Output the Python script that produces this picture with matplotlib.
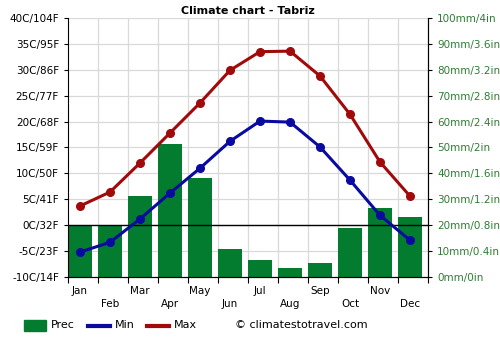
import matplotlib
matplotlib.use("Agg")
import matplotlib.pyplot as plt
import numpy as np

months = ["Jan", "Feb", "Mar", "Apr", "May", "Jun", "Jul", "Aug", "Sep", "Oct", "Nov", "Dec"]
tmax = [3.7, 6.4, 12.0, 17.8, 23.6, 29.9, 33.5, 33.6, 28.8, 21.4, 12.2, 5.6]
tmin = [-5.2, -3.3, 1.2, 6.2, 11.0, 16.2, 20.1, 19.9, 15.1, 8.7, 1.9, -2.9]
prec = [20.1, 20.1, 31.3, 51.4, 38.2, 10.8, 6.6, 3.6, 5.4, 18.9, 26.6, 23.2]
left_labels = ["-10C/14F", "-5C/23F", "0C/32F", "5C/41F", "10C/50F", "15C/59F", "20C/68F",
               "25C/77F", "30C/86F", "35C/95F", "40C/104F"]
right_labels = ["0mm/0in", "10mm/0.4in", "20mm/0.8in", "30mm/1.2in", "40mm/1.6in", "50mm/2in",
                "60mm/2.4in", "70mm/2.8in", "80mm/3.2in", "90mm/3.6in", "100mm/4in"]

fig = plt.figure(figsize=(5, 3.5), dpi=100)
ax = fig.add_axes([0.136, 0.2086, 0.72, 0.74])
ax2 = ax.twinx()

x = np.arange(12) - 0.1
ax.set_xlim(-0.5, 11.5)
ax.set_ylim(-10, 40)
ax2.set_ylim(0, 100)

# grid (on the lower axes so bars cover it)
for v in np.arange(0, 101, 10):
    ax2.axhline(v, color="#d9d9d9", lw=0.9, zorder=0)
for b in np.arange(0.5, 11.5, 1):
    ax2.axvline(b, color="#d9d9d9", lw=0.9, zorder=0)

ax2.bar(x, prec, width=0.8, color="#037c30", zorder=2)
ax2.set_zorder(1)
ax.set_zorder(2)
ax.patch.set_visible(False)
ax.axhline(0, color="black", lw=1.0, zorder=3)

ax.plot(x, tmax, color="#a00a0a", lw=2.2, marker="o", ms=5.5, zorder=5)
ax.plot(x, tmin, color="#0a0aa0", lw=2.2, marker="o", ms=5.5, zorder=5)

ax.set_yticks(np.arange(-10, 41, 5))
ax.set_yticklabels(left_labels, fontsize=7.5, color="black")
ax2.set_yticks(np.arange(0, 101, 10))
ax2.set_yticklabels(right_labels, fontsize=7.5, color="#2e7d32")
ax.tick_params(axis="y", length=3, color="black")
ax2.tick_params(axis="y", length=3, color="black")

ax.set_xticks(np.arange(-0.5, 12, 1), minor=False)
ax.set_xticklabels([])
ax.tick_params(axis="x", length=4, color="black")
for i, m in enumerate(months):
    yoff = -0.035 if i % 2 == 0 else -0.085
    ax.text(x[i], yoff, m, transform=ax.get_xaxis_transform(), ha="center", va="top", fontsize=7.5)

for sp in ["top"]:
    ax.spines[sp].set_visible(False)
    ax2.spines[sp].set_visible(False)
ax2.spines["left"].set_visible(False)
ax2.spines["right"].set_color("black")
ax.spines["left"].set_color("black")
ax.spines["bottom"].set_color("black")

ax.set_title("Climate chart - Tabriz", fontsize=8, fontweight="bold", pad=3)

# legend
fig.patches.append(plt.Rectangle((0.048, 0.055), 0.044, 0.03, transform=fig.transFigure, color="#037c30"))
fig.text(0.102, 0.07, "Prec", fontsize=8, va="center")
fig.lines.append(plt.Line2D([0.176, 0.219], [0.07, 0.07], transform=fig.transFigure, color="#0a0aa0", lw=3))
fig.text(0.23, 0.07, "Min", fontsize=8, va="center")
fig.lines.append(plt.Line2D([0.294, 0.337], [0.07, 0.07], transform=fig.transFigure, color="#a00a0a", lw=3))
fig.text(0.348, 0.07, "Max", fontsize=8, va="center")
fig.text(0.47, 0.07, "\u00a9 climatestotravel.com", fontsize=8, va="center")

fig.savefig("out.png", dpi=100)
